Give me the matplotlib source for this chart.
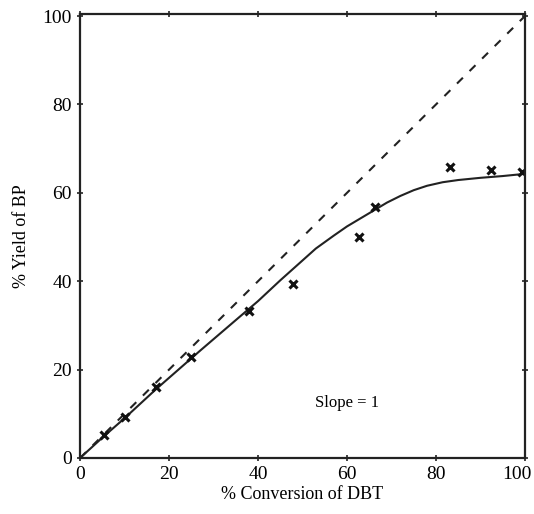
import matplotlib.pyplot as plt
from matplotlib.ticker import MultipleLocator, FuncFormatter

plt.rcParams['font.family'] = ['Liberation Serif', 'DejaVu Serif']

# measured points (% conversion, % yield)
conv = [5.3, 10, 17, 24.9, 38, 47.8, 62.7, 66.4, 83.1, 92.4, 99.3]
yld = [5.1, 9.2, 16, 22.8, 33.3, 39.4, 49.9, 56.8, 65.8, 65.1, 64.7]

# hand-drawn fit curve
curve_x = [0, 5, 10, 17, 27, 35, 40, 45, 50, 53, 57, 60, 64, 69, 72, 75, 78,
           81.5, 85, 90, 95, 100]
curve_y = [0, 4.6, 9, 15.5, 24.3, 31.2, 35.5, 40.2, 44.7, 47.4, 50.3, 52.4,
           54.8, 57.8, 59.3, 60.6, 61.6, 62.4, 62.9, 63.4, 63.8, 64.3]

# slope = 1 reference
ref = [0, 100]

fig = plt.figure(figsize=(5.34, 5.14), dpi=100)
ax = fig.add_axes([0.150, 0.109, 0.833, 0.864])

ax.plot(ref, ref, color='#222222', lw=1.5, ls=(0, (4, 4.5)))
ax.plot(curve_x, curve_y, color='#222222', lw=1.5)
ax.plot(conv, yld, ls='none', marker='x', ms=6, mew=2.2, color='#111111')

ax.text(60, 12.5, 'Slope = 1', fontsize=12, ha='center', va='center')

ax.set_xlim(0, 100)
ax.set_ylim(0, 100.5)
ax.xaxis.set_major_locator(MultipleLocator(20))
ax.yaxis.set_major_locator(MultipleLocator(20))
ax.xaxis.set_minor_locator(MultipleLocator(10))
ax.yaxis.set_minor_locator(MultipleLocator(10))
# last x label is drawn separately so it stays inside the figure
ax.xaxis.set_major_formatter(FuncFormatter(lambda v, p: '' if v >= 100 else f'{v:.0f}'))
ax.tick_params(which='both', direction='inout', top=True, right=True,
               labelsize=14, width=1.2, color='#222222')
ax.tick_params(which='major', length=5)
ax.tick_params(which='minor', length=2)
for s in ax.spines.values():
    s.set_linewidth(1.6)
    s.set_color('#222222')

ax.annotate('100', xy=(1, 0), xycoords='axes fraction', xytext=(4.5, -6),
            textcoords='offset points', ha='right', va='top', fontsize=14)

ax.set_xlabel('% Conversion of DBT', fontsize=13, labelpad=2)
ax.set_ylabel('% Yield of BP', fontsize=13, labelpad=9)

fig.savefig('out.png', dpi=100)
